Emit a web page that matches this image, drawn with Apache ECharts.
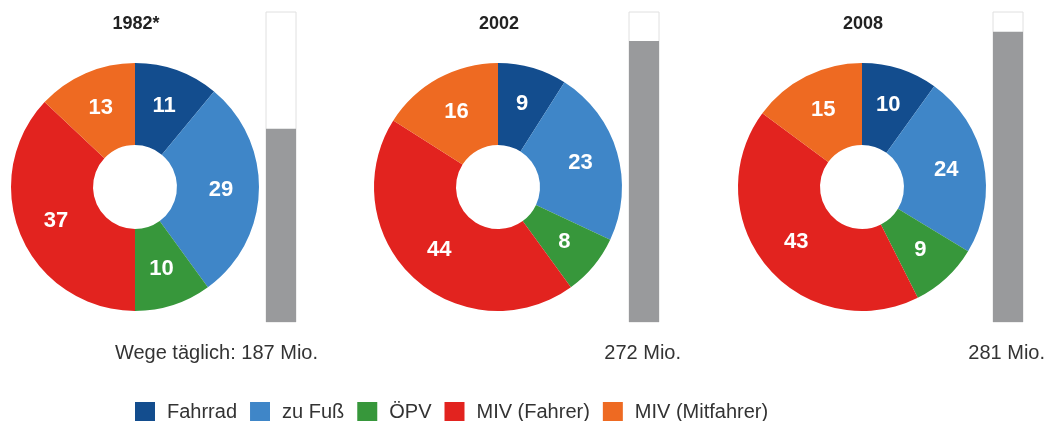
<!DOCTYPE html>
<html>
<head>
<meta charset="utf-8">
<script src="https://cdn.jsdelivr.net/npm/echarts@6/dist/echarts.min.js"></script>
<style>
  html, body { margin: 0; padding: 0; background: #fff; }
  #chart { width: 1052px; height: 421px; }
</style>
</head>
<body>
<div id="chart"></div>
<script>
// modes of transport (share of daily trips, %)
const modes = ['Fahrrad', 'zu Fuß', 'ÖPV', 'MIV (Fahrer)', 'MIV (Mitfahrer)']
const modeColors = ['#134d8e', '#3f86c8', '#37973b', '#e2231f', '#ee6a22']

const years = ['1982*', '2002', '2008']
const share1982 = [11, 29, 10, 37, 13]
const share2002 = [9, 23, 8, 44, 16]
const share2008 = [10, 24, 9, 43, 15]
const shares = [share1982, share2002, share2008]

// trips per day, million
const tripsMio = [187, 272, 281]
const tripsMax = 300

const pieCenters = [[135, 187], [498, 187], [862, 187]]
const barLefts = [266, 629, 993]

const chart = echarts.init(document.getElementById('chart'))

const grids = []
const xAxes = []
const yAxes = []
const series = []
const titles = []
const texts = []

years.forEach((year, i) => {
  titles.push({
    text: year,
    left: pieCenters[i][0] - 4,
    top: 10,
    textAlign: 'center',
    textStyle: { fontFamily: 'Liberation Sans, Arial', fontSize: 18, fontWeight: 'bold', color: '#222' }
  })

  series.push({
    type: 'pie',
    name: year,
    center: pieCenters[i],
    radius: [42, 124],
    startAngle: 90,
    clockwise: true,
    avoidLabelOverlap: false,
    silent: true,
    itemStyle: { borderWidth: 0 },
    label: {
      show: true,
      position: 'inside',
      formatter: '{c}',
      color: '#fff',
      fontFamily: 'Liberation Sans, Arial',
      fontSize: 22,
      fontWeight: 'bold'
    },
    labelLine: { show: false },
    data: modes.map((m, k) => ({
      name: m,
      value: shares[i][k],
      itemStyle: { color: modeColors[k] }
    }))
  })

  grids.push({ left: barLefts[i], top: 12, width: 30, height: 310 })
  xAxes.push({ type: 'category', gridIndex: i, data: [year], show: false })
  yAxes.push({ type: 'value', gridIndex: i, min: 0, max: tripsMax, show: false })
  series.push({
    type: 'bar',
    xAxisIndex: i,
    yAxisIndex: i,
    barWidth: '100%',
    silent: true,
    data: [tripsMio[i]],
    itemStyle: { color: '#999a9c' },
    showBackground: true,
    backgroundStyle: { color: '#fff', borderColor: '#e0e0e0', borderWidth: 1 }
  })

  texts.push({
    type: 'text',
    right: 1052 - (barLefts[i] + 30 + 22),
    top: 343,
    style: {
      text: (i === 0 ? 'Wege täglich: ' : '') + tripsMio[i] + ' Mio.',
      fontFamily: 'Liberation Sans, Arial',
      fontSize: 20,
      fill: '#333'
    }
  })
})

chart.setOption({
  animation: false,
  title: titles,
  grid: grids,
  xAxis: xAxes,
  yAxis: yAxes,
  legend: {
    data: modes,
    left: 130,
    top: 397,
    icon: 'rect',
    itemWidth: 20,
    itemHeight: 20,
    itemGap: 13,
    selectedMode: false,
    textStyle: { fontFamily: 'Liberation Sans, Arial', fontSize: 20, color: '#333', padding: [0, 0, 0, 7] }
  },
  graphic: texts,
  series: series
})
</script>
</body>
</html>
